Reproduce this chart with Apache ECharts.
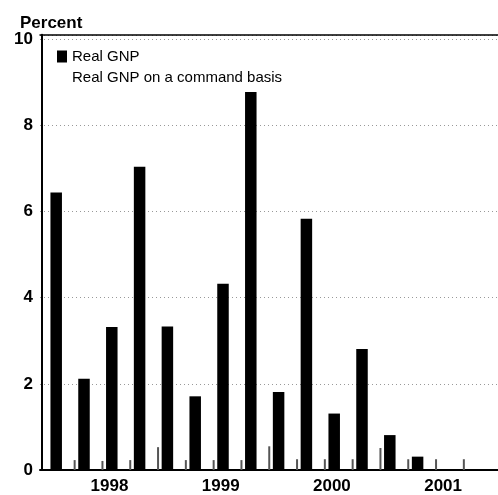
<!DOCTYPE html>
<html>
<head>
<meta charset="utf-8">
<script src="https://cdn.jsdelivr.net/npm/echarts@6/dist/echarts.min.js"></script>
<style>
html,body{margin:0;padding:0;background:#fff;overflow:hidden;width:498px;height:495px;}
#chart{width:513px;height:495px;}
</style>
</head>
<body>
<div id="chart"></div>
<script>
// Quarters (the last one is cut off at the right edge of the picture)
const quarters = ['1998:Q1','1998:Q2','1998:Q3','1998:Q4',
                  '1999:Q1','1999:Q2','1999:Q3','1999:Q4',
                  '2000:Q1','2000:Q2','2000:Q3','2000:Q4',
                  '2001:Q1','2001:Q2','2001:Q3','2001:Q4',
                  '2002:Q1'];
// Real GNP, percent
const realGNP = [6.44, 2.12, 3.32, 7.04, 3.33, 1.71, 4.32, 8.77,
                 1.81, 5.83, 1.31, 2.81, 0.81, 0.31, null, null, null];
// Real GNP on a command basis, percent
const commandBasis = [null, 0.23, 0.21, 0.23, 0.53, 0.23, 0.23, 0.23,
                      0.55, 0.25, 0.25, 0.25, 0.51, 0.25, 0.25, 0.25, null];
const yTicks = [0, 2, 4, 6, 8, 10];

const font = 'Liberation Sans, Arial, Helvetica, sans-serif';
const chart = echarts.init(document.getElementById('chart'), null, {renderer: 'canvas'});
chart.setOption({
  animation: false,
  backgroundColor: '#fff',
  title: {
    text: 'Percent', left: 15, top: 10,
    textStyle: {fontFamily: font, fontSize: 17, fontWeight: 'bold', color: '#000'}
  },
  legend: {
    orient: 'vertical', left: 52, top: 44,
    itemWidth: 10, itemHeight: 12, itemGap: 6,
    textStyle: {fontFamily: font, fontSize: 15, color: '#000'},
    data: [
      {name: 'Real GNP', icon: 'rect'},
      {name: 'Real GNP on a command basis', icon: 'rect', itemStyle: {color: '#fff'}}
    ]
  },
  grid: {left: 40, top: 34.8, right: 0.4, height: 435.8, containLabel: false},
  xAxis: [{
    type: 'category',
    data: quarters,
    axisLine: {show: true, lineStyle: {color: '#000', width: 2}},
    axisTick: {show: false},
    axisLabel: {
      interval: 0, margin: 8,
      fontFamily: font, fontSize: 17, fontWeight: 'bold', color: '#000',
      formatter: function (v) { return v.endsWith('Q3') ? v.slice(0, 4) : ''; }
    },
    splitLine: {show: false}
  }, {
    type: 'category',
    position: 'top',
    data: quarters,
    axisLine: {show: true, lineStyle: {color: '#000', width: 1.5}},
    axisTick: {show: false},
    axisLabel: {show: false}
  }],
  yAxis: {
    type: 'value', min: 0, max: 10.1, interval: 2, offset: -2,
    axisLine: {show: true, lineStyle: {color: '#000', width: 2}},
    axisTick: {show: false},
    axisLabel: {
      margin: 9, fontFamily: font, fontSize: 17, fontWeight: 'bold', color: '#000',
      formatter: function (v) { return yTicks.indexOf(v) >= 0 ? String(v) : ''; }
    },
    splitLine: {show: true, lineStyle: {color: '#999', type: [1, 3], width: 1}}
  },
  series: [{
    name: 'Real GNP on a command basis',
    type: 'bar',
    data: commandBasis,
    barWidth: 2,
    barGap: '130%',
    itemStyle: {color: '#555'}
  }, {
    name: 'Real GNP',
    type: 'bar',
    data: realGNP,
    barWidth: 11.5,
    itemStyle: {color: '#000'}
  }]
});
</script>
</body>
</html>
